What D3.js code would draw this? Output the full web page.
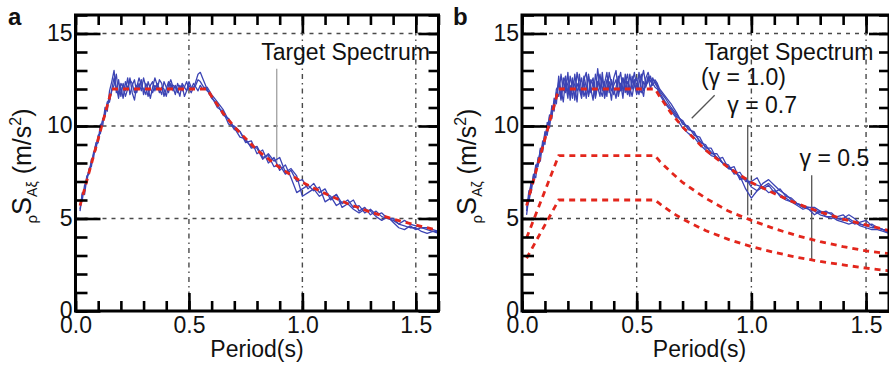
<!DOCTYPE html>
<html><head><meta charset="utf-8">
<script src="https://cdn.jsdelivr.net/npm/d3@7"></script>
<style>
body{margin:0;background:#fff}
text{font-family:"Liberation Sans",Arial,Helvetica,sans-serif}
</style>
</head><body>
<svg id="chart" width="889" height="368"></svg>
<script>
// Period grid (s) for the simulated response spectra
const periods = [
  0.02,0.03,0.04,0.05,0.06,0.07,0.08,0.09,0.10,
  0.11,0.12,0.13,0.14,0.15,0.16,0.17,0.18,0.19,0.20,
  0.21,0.22,0.23,0.24,0.25,0.26,0.27,0.28,0.29,0.30,
  0.31,0.32,0.33,0.34,0.35,0.36,0.37,0.38,0.39,0.40,
  0.41,0.42,0.43,0.44,0.45,0.46,0.47,0.48,0.49,0.50,
  0.51,0.52,0.53,0.54,0.55,0.56,0.57,0.58,0.59,0.60,
  0.625,0.65,0.675,0.70,0.725,0.75,0.775,0.80,
  0.825,0.85,0.875,0.90,0.925,0.95,0.975,1.00,
  1.025,1.05,1.075,1.10,1.125,1.15,1.175,1.20,
  1.225,1.25,1.275,1.30,1.325,1.35,1.375,1.40,
  1.425,1.45,1.475,1.50,1.525,1.55,1.575,1.60
];

// Panel a: simulated spectra (m/s^2)
const specA1 = [5.4,6.3,6.5,7.3,7.4,8.2,8.3,9.1,9.2,10.1,10.0,11.0,10.8,11.9,
  12.4,13.0,11.8,12.5,11.6,12.3,11.9,12.6,11.7,12.2,12.5,11.8,12.3,11.9,12.6,
  12.1,11.6,12.2,12.4,11.9,12.3,12.0,11.7,12.4,12.1,11.8,12.3,11.9,12.2,12.0,
  11.6,12.3,12.1,11.9,12.2,12.0,12.3,12.1,11.9,12.2,12.0,12.1,11.9,
  11.8,11.5,
  11.2,10.6,10.4,9.9,9.4,9.3,8.8,8.9,8.3,8.4,7.8,7.9,7.4,7.6,7.0,
  7.1,6.6,6.9,6.4,6.6,6.0,6.3,5.8,6.0,5.6,5.7,5.3,5.5,5.2,5.3,
  5.0,4.9,4.7,4.9,4.7,4.6,4.5,4.5,4.4,4.3];
const specA2 = [5.8,6.0,6.8,7.0,7.7,7.8,8.6,8.7,9.5,9.6,10.4,10.5,11.3,11.4,
  11.9,12.2,12.8,11.7,12.1,11.5,12.4,12.0,12.6,11.8,11.4,12.2,12.0,12.5,11.7,
  12.3,12.0,11.5,12.1,12.6,12.2,11.8,12.1,12.0,11.6,12.2,12.5,12.1,11.7,12.3,
  12.0,12.2,11.6,11.9,12.4,12.1,12.0,12.4,12.8,12.9,12.6,12.3,12.0,
  11.7,11.6,
  11.0,10.8,10.1,10.0,9.7,9.1,9.2,8.5,8.7,8.0,8.3,7.6,7.9,7.2,6.4,
  6.6,6.8,6.5,6.7,5.9,6.1,6.3,5.6,5.8,6.0,5.4,5.6,5.2,5.4,5.1,
  5.0,5.0,4.7,4.6,4.5,4.5,4.3,4.2,4.3,4.2];
const specA3 = [5.5,6.4,6.3,7.2,7.6,8.0,8.5,9.0,9.1,9.9,10.3,10.7,11.2,11.3,
  12.0,12.6,12.1,11.5,12.3,12.1,11.6,12.0,12.5,12.3,11.8,12.1,12.6,12.2,12.0,
  11.7,12.4,12.0,11.8,12.2,12.0,12.5,12.3,11.6,12.0,12.4,12.0,12.2,12.1,11.8,
  12.2,11.9,12.1,12.4,12.0,11.8,12.1,12.2,12.5,12.4,12.2,12.0,12.1,
  11.9,11.7,
  11.3,10.9,10.3,9.8,9.7,9.2,8.9,8.8,8.2,8.5,8.1,8.3,7.5,7.7,7.3,
  6.2,6.4,6.6,6.2,6.4,6.2,5.7,5.9,5.8,5.5,5.3,5.5,5.4,5.1,4.9,
  5.1,4.8,4.5,4.4,4.6,4.4,4.5,4.4,4.3,4.3];

// Panel b: simulated spectra (m/s^2)
const specB1 = [5.2,6.2,6.9,7.0,7.9,7.8,8.8,8.6,9.6,9.7,10.6,10.4,11.5,11.2,
  12.7,11.5,12.6,11.8,12.9,11.4,12.5,12.2,11.3,12.8,11.9,12.4,11.5,12.7,12.0,
  11.4,12.8,12.1,11.6,12.9,11.7,12.5,12.2,11.4,12.6,13.0,11.8,12.3,11.5,12.8,
  12.0,11.6,12.7,12.2,11.8,12.9,12.1,11.6,12.6,12.9,12.4,12.6,12.3,
  12.1,11.9,
  11.5,11.0,10.6,10.2,9.9,9.6,9.2,8.9,8.6,8.3,8.0,7.8,7.5,7.3,6.6,
  6.1,6.5,6.9,7.1,6.8,6.5,6.3,6.0,5.8,5.6,5.5,5.2,5.4,5.1,5.0,
  5.1,5.2,4.9,4.7,4.8,4.9,4.6,4.5,4.4,4.3];
const specB2 = [5.6,5.9,6.6,7.3,7.5,8.2,8.4,9.0,9.3,10.0,10.1,10.9,11.0,11.8,
  11.6,12.8,11.9,12.3,11.5,12.7,12.0,11.6,12.9,12.2,11.7,12.5,12.9,11.6,12.3,
  12.6,11.5,12.2,12.8,11.9,12.4,11.6,12.9,12.3,11.7,12.1,12.7,11.9,12.6,12.2,
  11.7,12.8,12.0,12.5,11.7,12.3,12.8,11.9,12.2,12.7,12.0,12.5,12.4,
  12.2,11.8,
  11.3,10.9,10.5,10.3,9.8,9.7,9.1,9.0,8.5,8.5,8.0,7.9,7.4,7.5,7.0,
  7.0,7.2,6.6,6.8,6.4,6.6,6.2,6.1,5.8,5.7,5.6,5.5,5.3,5.4,5.2,
  5.0,4.9,5.0,4.8,4.7,4.6,4.7,4.5,4.4,4.4];
const specB3 = [5.4,6.5,6.4,7.4,7.2,8.3,8.1,9.2,9.0,10.2,9.9,11.1,10.8,12.0,
  12.2,11.4,12.3,12.7,11.8,12.2,11.5,12.8,11.9,12.1,12.6,11.6,12.0,12.8,11.8,
  12.4,11.7,13.1,12.0,11.6,12.3,12.9,11.8,12.5,12.0,11.5,12.4,12.9,11.9,12.3,
  12.8,11.8,12.3,12.9,12.1,11.7,12.5,13.0,12.2,12.4,12.7,12.2,12.5,
  12.3,12.0,
  11.6,11.2,10.7,10.1,10.0,9.5,9.4,8.8,8.8,8.2,8.3,7.7,7.8,7.1,7.2,
  6.7,6.5,6.7,6.9,6.6,6.2,6.0,5.9,5.7,5.5,5.6,5.6,5.4,5.3,5.3,
  5.0,5.0,5.2,5.0,4.7,4.6,4.5,4.5,4.4,4.2];
const specB4 = [5.9,6.1,7.0,6.9,7.8,8.0,8.7,8.8,9.7,9.5,10.5,10.6,11.3,11.6,
  12.4,12.0,11.3,12.5,12.2,11.7,12.6,11.4,12.3,12.0,11.5,12.7,12.1,11.7,12.5,
  12.2,11.6,12.4,12.0,12.6,11.5,12.1,12.4,11.9,12.2,12.5,11.6,12.2,12.6,11.8,
  12.4,12.1,11.6,12.3,12.6,12.0,11.8,12.4,12.1,12.6,12.4,12.3,12.1,
  12.0,11.7,
  11.2,10.8,10.4,9.9,9.6,9.4,9.0,8.7,8.4,8.3,8.0,7.7,7.6,7.2,7.1,
  6.9,6.8,6.7,6.4,6.5,6.3,6.1,5.9,5.8,5.7,5.5,5.4,5.2,5.1,5.1,
  4.9,4.8,4.7,4.8,4.6,4.5,4.4,4.4,4.3,4.2];

// Target spectra (dashed)
const targetPeriods = [0.02,0.16,0.58,0.60,0.65,0.70,0.80,0.90,1.00,1.10,1.20,1.30,1.40,1.50,1.60];
const target10 = [5.7,12.0,12.0,11.6,10.7,9.95,8.7,7.75,6.95,6.35,5.8,5.35,4.97,4.65,4.35];
const target07 = [3.95,8.4,8.4,8.1,7.5,6.95,6.1,5.4,4.9,4.45,4.07,3.75,3.48,3.25,3.1];
const target05 = [2.85,6.0,6.0,5.8,5.35,4.97,4.35,3.87,3.48,3.17,2.9,2.68,2.49,2.32,2.17];

// Axis ticks
const xTicks = [0.0, 0.5, 1.0, 1.5];
const xMinorTicks = [0,0.1,0.2,0.3,0.4,0.5,0.6,0.7,0.8,0.9,1.0,1.1,1.2,1.3,1.4,1.5,1.6];
const yTicks = [0, 5, 10, 15];
const yMinorTicks = [0,1,2,3,4,5,6,7,8,9,10,11,12,13,14,15,16];
const gridY = [5, 10, 15];
const gridX = [0.5, 1.0, 1.5];

const BLUE = "#3c44b4";
const RED = "#e3261c";
const FONT = 23;

const svg = d3.select("#chart");
svg.append("rect").attr("width", 889).attr("height", 368).attr("fill", "#fff");

function zip(xs, ys) { return xs.map((t, i) => [t, ys[i]]); }

function panel(cfg) {
  const x = d3.scaleLinear().domain([0, 1.6]).range([cfg.left, cfg.right]);
  const y = d3.scaleLinear().domain([0, 16]).range([311, 15]);
  const g = svg.append("g");
  const [x0, x1] = x.range();
  const [y0, y1] = y.range();

  // grid
  g.append("g").selectAll("line").data(gridY).join("line")
    .attr("x1", x0).attr("x2", x1).attr("y1", d => y(d)).attr("y2", d => y(d))
    .attr("stroke", "#4a4a4a").attr("stroke-width", 1.4).attr("stroke-dasharray", "4,5");
  g.append("g").selectAll("line").data(gridX).join("line")
    .attr("x1", d => x(d)).attr("x2", d => x(d)).attr("y1", y0).attr("y2", y1)
    .attr("stroke", "#4a4a4a").attr("stroke-width", 1.4).attr("stroke-dasharray", "5,4,1.5,4");

  // leader lines for annotations
  g.append("g").selectAll("line").data(cfg.leaders).join("line")
    .attr("x1", d => x(d[0])).attr("y1", d => y(d[1]))
    .attr("x2", d => x(d[2])).attr("y2", d => y(d[3]))
    .attr("stroke", d => d[4]).attr("stroke-width", 1.3);

  const line = d3.line().x(d => x(d[0])).y(d => y(d[1]));

  // simulated spectra
  g.append("g").selectAll("path").data(cfg.spectra).join("path")
    .attr("d", s => line(zip(periods, s)))
    .attr("fill", "none").attr("stroke", BLUE).attr("stroke-width", 1.3)
    .attr("stroke-linejoin", "round");

  // target spectra
  g.append("g").selectAll("path").data(cfg.targets).join("path")
    .attr("d", s => line(zip(targetPeriods, s)))
    .attr("fill", "none").attr("stroke", RED).attr("stroke-width", 2.8)
    .attr("stroke-dasharray", "6,5");

  // axes (ticks point inward)
  const styleAxis = sel => {
    sel.select(".domain").remove();
    sel.selectAll(".tick line").attr("stroke", "#000").attr("stroke-width", 2.6);
    sel.selectAll("text").attr("font-size", FONT).attr("fill", "#111")
      .attr("font-family", "'Liberation Sans', Arial, sans-serif");
  };
  const none = () => "";
  g.append("g").attr("transform", `translate(0,${y0})`)
    .call(d3.axisBottom(x).tickValues(xMinorTicks).tickSize(-10).tickFormat(none)).call(styleAxis);
  g.append("g").attr("transform", `translate(0,${y0})`)
    .call(d3.axisBottom(x).tickValues(xTicks).tickSize(-18).tickPadding(6).tickFormat(d3.format(".1f"))).call(styleAxis);
  g.append("g").attr("transform", `translate(0,${y1})`)
    .call(d3.axisTop(x).tickValues(xMinorTicks).tickSize(-10).tickFormat(none)).call(styleAxis);
  g.append("g").attr("transform", `translate(0,${y1})`)
    .call(d3.axisTop(x).tickValues(xTicks).tickSize(-18).tickFormat(none)).call(styleAxis);
  g.append("g").attr("transform", `translate(${x0},0)`)
    .call(d3.axisLeft(y).tickValues(yMinorTicks).tickSize(-12).tickFormat(none)).call(styleAxis);
  const yAx = g.append("g").attr("transform", `translate(${x0},0)`)
    .call(d3.axisLeft(y).tickValues(yTicks).tickSize(-25).tickPadding(3).tickFormat(d3.format("d"))).call(styleAxis);
  yAx.selectAll("text").attr("dy", "0.3em");
  g.append("g").attr("transform", `translate(${x1},0)`)
    .call(d3.axisRight(y).tickValues(yMinorTicks).tickSize(-10).tickFormat(none)).call(styleAxis);
  g.append("g").attr("transform", `translate(${x1},0)`)
    .call(d3.axisRight(y).tickValues(yTicks).tickSize(-20).tickFormat(none)).call(styleAxis);

  // frame
  g.append("rect").attr("x", x0).attr("y", y1).attr("width", x1 - x0).attr("height", y0 - y1)
    .attr("fill", "none").attr("stroke", "#000").attr("stroke-width", 3);

  // annotation labels
  g.append("g").selectAll("text").data(cfg.notes).join("text")
    .attr("x", d => x(d.t)).attr("y", d => y(d.v))
    .attr("text-anchor", d => d.anchor)
    .attr("font-size", FONT).attr("fill", "#111")
    .text(d => d.label);

  // x-axis title
  g.append("text").attr("x", (x0 + x1) / 2 + cfg.titleShift).attr("y", 357)
    .attr("text-anchor", "middle").attr("font-size", FONT).attr("fill", "#111").text("Period(s)");

  // y-axis title
  const yt = g.append("text")
    .attr("transform", `translate(${cfg.ytX},166) rotate(-90)`)
    .attr("text-anchor", "middle").attr("fill", "#111");
  yt.append("tspan").attr("font-size", 15).attr("dy", 6).text("ρ");
  yt.append("tspan").attr("font-size", 27).attr("dy", -6).text("S");
  yt.append("tspan").attr("font-size", 14).attr("dy", 6).text(cfg.sub);
  yt.append("tspan").attr("font-size", 25).attr("dy", -6).text("\u00a0(m/s");
  yt.append("tspan").attr("font-size", 16).attr("dy", -10).text("2");
  yt.append("tspan").attr("font-size", 25).attr("dy", 10).text(")");

  // panel letter
  g.append("text").attr("x", cfg.letterX).attr("y", 25).attr("font-size", 24)
    .attr("font-weight", "bold").attr("fill", "#111").text(cfg.letter);
}

panel({
  left: 75.5, right: 438.5, letter: "a", letterX: 8, ytX: 31, sub: "Aξ", titleShift: 0,
  spectra: [specA1, specA2, specA3],
  targets: [target10],
  leaders: [[0.887, 13.1, 0.887, 7.9, "#a0a0a0"]],
  notes: [{ t: 1.562, v: 13.55, anchor: "end", label: "Target Spectrum" }]
});

panel({
  left: 522, right: 889, letter: "b", letterX: 453, ytX: 476, sub: "Aζ", titleShift: -6,
  spectra: [specB1, specB2, specB3, specB4],
  targets: [target05, target07, target10],
  leaders: [
    [0.84, 11.66, 0.74, 10.42, "#555"],
    [0.984, 10.04, 0.984, 5.18, "#555"],
    [1.263, 7.34, 1.263, 2.75, "#555"]
  ],
  notes: [
    { t: 1.532, v: 13.55, anchor: "end", label: "Target Spectrum" },
    { t: 0.78, v: 12.2, anchor: "start", label: "(γ = 1.0)" },
    { t: 0.895, v: 10.7, anchor: "start", label: "γ = 0.7" },
    { t: 1.21, v: 7.85, anchor: "start", label: "γ = 0.5" }
  ]
});
</script>
</body></html>
